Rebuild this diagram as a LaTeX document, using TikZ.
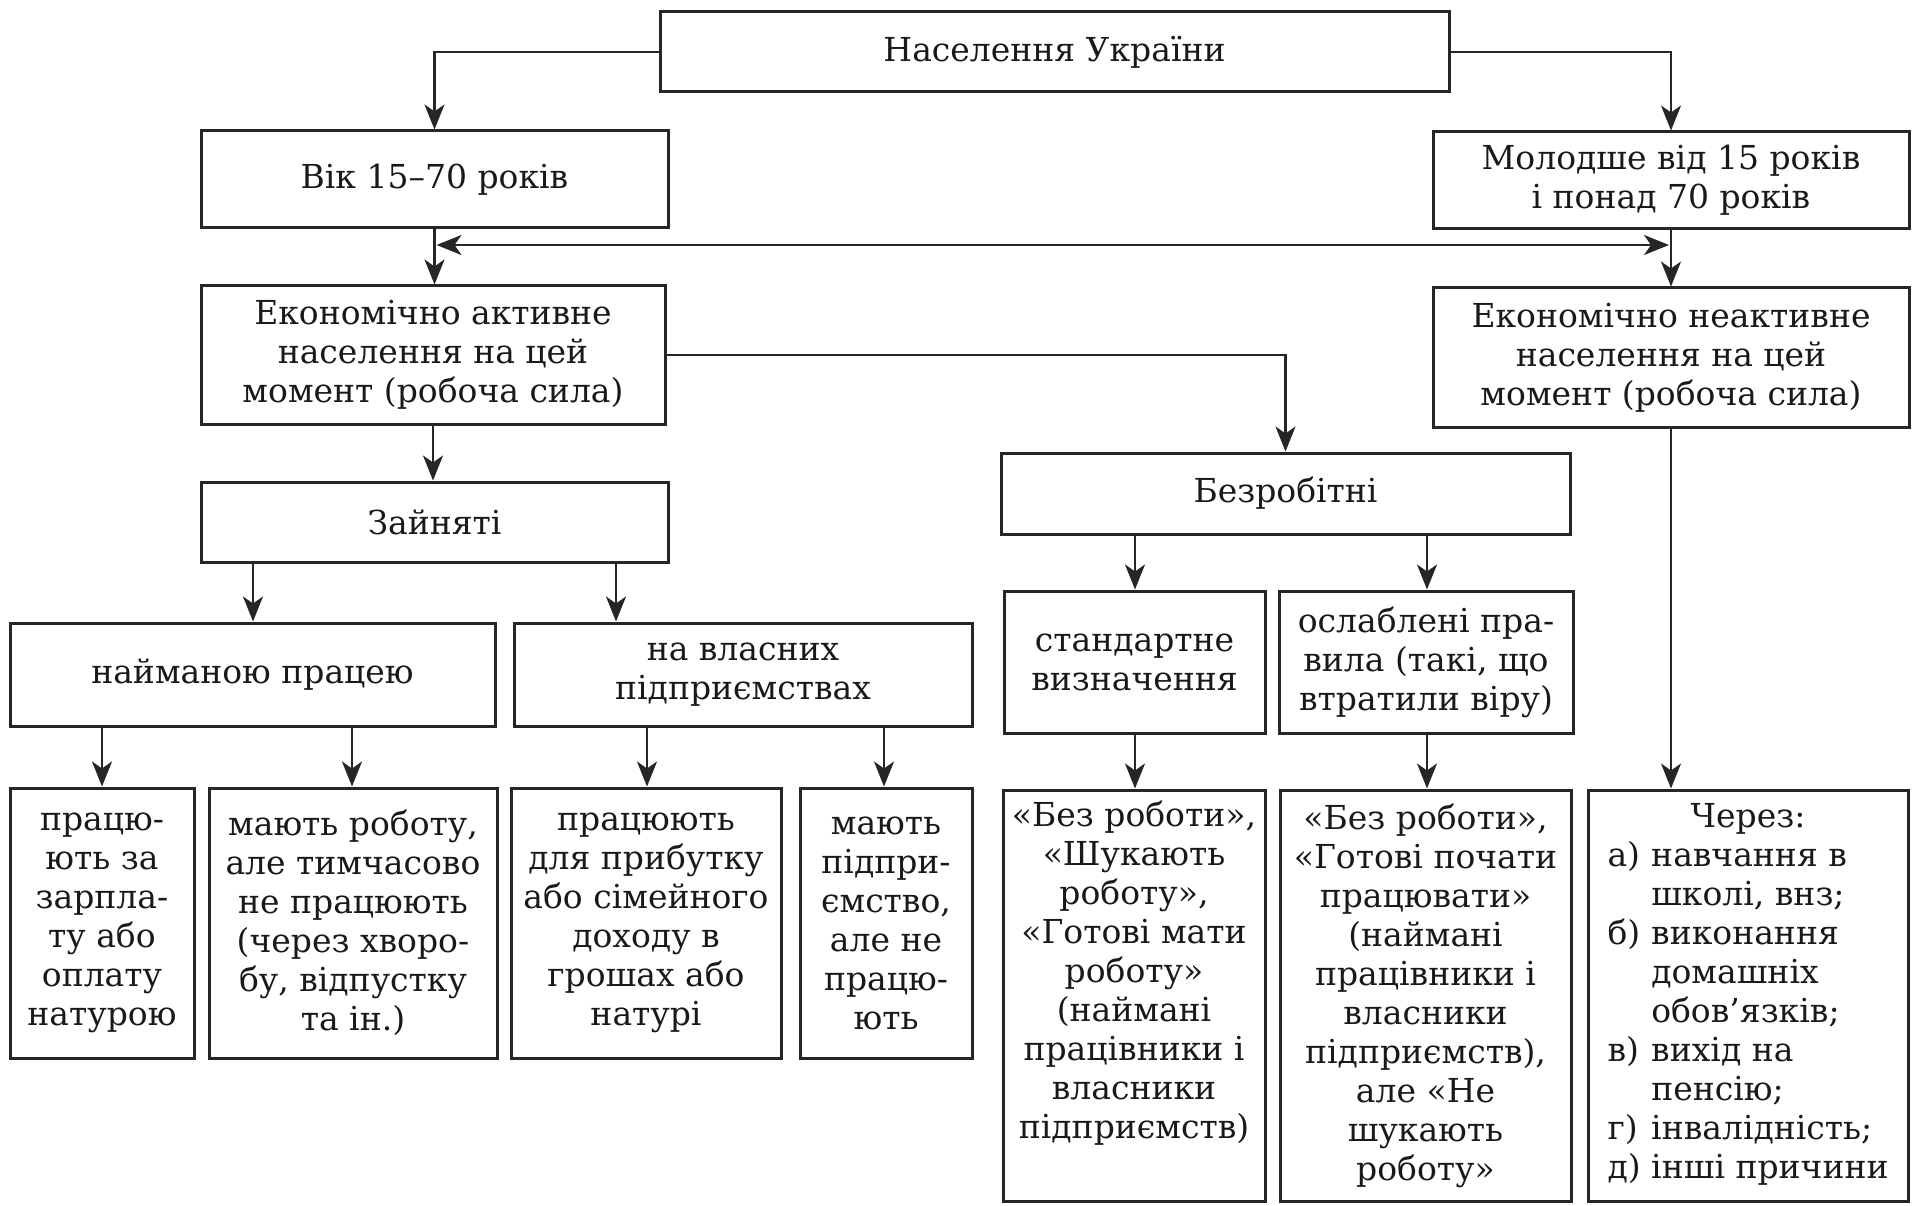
\documentclass[tikz,border=0pt]{standalone}
\usepackage{fontspec}
\setmainfont{DejaVu Serif}
\usetikzlibrary{arrows.meta}
\begin{document}
\begin{tikzpicture}[x=1pt,y=-1pt,
  bx/.style={draw=black!85, line width=3pt, inner sep=0pt, align=center, text=black!90,
    font=\fontsize{33}{39}\selectfont},
  arr/.style={draw=black!85, line width=2.4pt, -{Stealth[length=25pt,width=20pt,inset=7pt]}},
  dbl/.style={draw=black!85, line width=2.4pt, {Stealth[length=25pt,width=20pt,inset=7pt]}-{Stealth[length=25pt,width=20pt,inset=7pt]}, shorten <=2pt, shorten >=2pt},
]
\useasboundingbox (0,0) rectangle (1915,1206);

\node[bx, minimum width=789pt, minimum height=80pt] (top) at (1054.5,52) {Населення України};
\node[bx, minimum width=467pt, minimum height=97pt] (vik) at (434.5,179.5) {Вік 15–70 років};
\node[bx, minimum width=476pt, minimum height=97pt] (mol) at (1671,180.5) {Молодше від 15 років\\і понад 70 років};
\node[bx, minimum width=464pt, minimum height=138pt] (act) at (433,355) {Економічно активне\\населення на цей\\момент (робоча сила)};
\node[bx, minimum width=476pt, minimum height=139pt] (inact) at (1671,357.5) {Економічно неактивне\\населення на цей\\момент (робоча сила)};
\node[bx, minimum width=467pt, minimum height=80pt] (zai) at (434.5,522) {Зайняті};
\node[bx, minimum width=569pt, minimum height=81pt] (bez) at (1285.5,493.5) {Безробітні};
\node[bx, minimum width=485pt, minimum height=103pt] (naim) at (252.5,674.5) {найманою працею};
\node[bx, minimum width=458pt, minimum height=103pt] (vlas) at (743,674.5) {на власних\\підприємствах};
\node[bx, minimum width=261pt, minimum height=142pt] (std) at (1134.5,662) {стандартне\\визначення};
\node[bx, minimum width=294pt, minimum height=142pt] (osl) at (1426,662) {ослаблені пра-\\вила (такі, що\\втратили віру)};

\node[bx, minimum width=184pt, minimum height=270pt] (b1) at (102,923) {працю-\\ють за\\зарпла-\\ту або\\оплату\\натурою};
\node[bx, minimum width=288pt, minimum height=270pt] (b2) at (353,923) {мають роботу,\\але тимчасово\\не працюють\\(через хворо-\\бу, відпустку\\та ін.)};
\node[bx, minimum width=270pt, minimum height=270pt] (b3) at (646,923) {працюють\\для прибутку\\або сімейного\\доходу в\\грошах або\\натурі};
\node[bx, minimum width=172pt, minimum height=270pt] (b4) at (886,923) {мають\\підпри-\\ємство,\\але не\\працю-\\ють};

\node[bx, minimum width=262pt, minimum height=411pt] (b5) at (1134,995.5) {«Без роботи»,\\«Шукають\\роботу»,\\«Готові мати\\роботу»\\(наймані\\працівники і\\власники\\підприємств)\\\strut};
\node[bx, minimum width=291pt, minimum height=411pt] (b6) at (1425.5,995.5) {«Без роботи»,\\«Готові почати\\працювати»\\(наймані\\працівники і\\власники\\підприємств),\\але «Не\\шукають\\роботу»};
\node[bx, minimum width=320pt, minimum height=411pt] (b7) at (1748,995.5) {\begin{tabular}{@{}l@{\ }l@{}}
\multicolumn{2}{c}{Через:}\\
а) & навчання в\\
   & школі, внз;\\
б) & виконання\\
   & домашніх\\
   & обов’язків;\\
в) & вихід на\\
   & пенсію;\\
г) & інвалідність;\\
д) & інші причини
\end{tabular}};

% connectors
\draw[arr] (top.west) -| (vik.north);
\draw[arr] (top.east) -| (mol.north);
\draw[arr] (vik.south) -- (vik.south |- act.north);
\draw[arr] (mol.south) -- (mol.south |- inact.north);
\draw[dbl] (vik.south |- 0,245) -- (mol.south |- 0,245);
\draw[arr] (act.east) -| (bez.north);
\draw[arr] (act.south) -- (act.south |- zai.north);
\draw[arr] (zai.south -| 253,0) -- (naim.north -| 253,0);
\draw[arr] (zai.south -| 616,0) -- (vlas.north -| 616,0);
\draw[arr] (naim.south -| 102,0) -- (b1.north -| 102,0);
\draw[arr] (naim.south -| 352,0) -- (b2.north -| 352,0);
\draw[arr] (vlas.south -| 647,0) -- (b3.north -| 647,0);
\draw[arr] (vlas.south -| 884,0) -- (b4.north -| 884,0);
\draw[arr] (bez.south -| 1135,0) -- (std.north -| 1135,0);
\draw[arr] (bez.south -| 1427,0) -- (osl.north -| 1427,0);
\draw[arr] (std.south -| 1135,0) -- (b5.north -| 1135,0);
\draw[arr] (osl.south -| 1427,0) -- (b6.north -| 1427,0);
\draw[arr] (inact.south) -- (inact.south |- b7.north);
\end{tikzpicture}
\end{document}
